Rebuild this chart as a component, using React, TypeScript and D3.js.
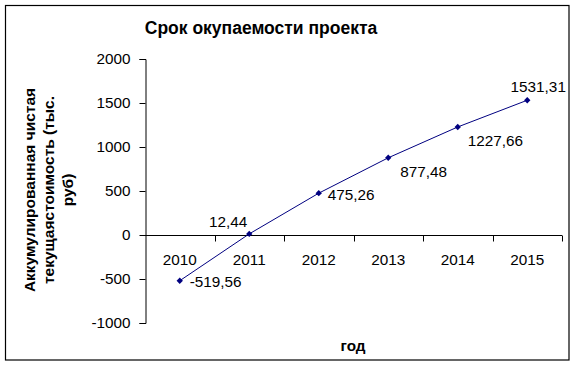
import { useRef, useEffect } from "react";
import * as d3 from "d3";

// chart data
const years = ["2010", "2011", "2012", "2013", "2014", "2015"];
const npv = [-519.56, 12.44, 475.26, 877.48, 1227.66, 1531.31];
const valueLabels = ["-519,56", "12,44", "475,26", "877,48", "1227,66", "1531,31"];
const yTicks = [-1000, -500, 0, 500, 1000, 1500, 2000];
const yTitleLines = ["Аккумулированная чистая", "текущаястоимость (тыс.", "руб)"];

// label offsets relative to each point: [dx, dy, anchor]
const labelPos: [number, number, string][] = [
  [10, 6, "start"],
  [-2, -7, "end"],
  [9, 7, "start"],
  [12, 19, "start"],
  [10, 19, "start"],
  [11, -8, "middle"],
];

const App = () => {
  const svgRef = useRef<SVGSVGElement | null>(null);

  useEffect(() => {
    const width = 577;
    const height = 366;
    const font = "Arial, 'Liberation Sans', sans-serif";
    const fs = 15.3;
    const plot = { left: 145, right: 562, top: 59, bottom: 323 };

    const svg = d3.select(svgRef.current).attr("width", width).attr("height", height);
    svg.selectAll("*").remove();

    svg.append("rect")
      .attr("width", width).attr("height", height).attr("fill", "#fff");

    // outer frame
    svg.append("rect")
      .attr("x", 5.5).attr("y", 5.5)
      .attr("width", 563.5).attr("height", 354.5)
      .attr("fill", "none").attr("stroke", "#000").attr("stroke-width", 1.2);

    const x = d3.scaleBand<string>()
      .domain(years)
      .range([plot.left, plot.right])
      .padding(0);

    const y = d3.scaleLinear()
      .domain([-1000, 2000])
      .range([plot.bottom, plot.top]);

    // y axis
    const yAxis = d3.axisLeft(y).tickValues(yTicks).tickSize(6).tickPadding(9).tickFormat(d => String(d));
    const gy = svg.append("g")
      .attr("transform", `translate(${plot.left + 0.5},0)`)
      .call(yAxis);
    gy.select(".domain").attr("stroke", "#000");
    gy.selectAll(".tick line").attr("stroke", "#000");
    gy.selectAll("text").attr("font-family", font).attr("font-size", fs).attr("fill", "#000");

    // x axis at zero, ticks between categories
    const y0 = Math.round(y(0)) + 0.5;
    svg.append("line")
      .attr("x1", plot.left).attr("x2", plot.right)
      .attr("y1", y0).attr("y2", y0)
      .attr("stroke", "#000");
    svg.selectAll(".xtick")
      .data(years)
      .join("line")
      .attr("class", "xtick")
      .attr("x1", d => Math.round((x(d) as number) + x.bandwidth()) + 0.5)
      .attr("x2", d => Math.round((x(d) as number) + x.bandwidth()) + 0.5)
      .attr("y1", y0).attr("y2", y0 + 6)
      .attr("stroke", "#000");
    svg.selectAll(".xlab")
      .data(years)
      .join("text")
      .attr("class", "xlab")
      .attr("x", d => (x(d) as number) + x.bandwidth() / 2)
      .attr("y", y0 + 29)
      .attr("text-anchor", "middle")
      .attr("font-family", font).attr("font-size", fs)
      .text(d => d);

    // line + markers
    const cx = (i: number) => (x(years[i]) as number) + x.bandwidth() / 2;
    const line = d3.line<number>().x((_, i) => cx(i)).y(d => y(d));
    svg.append("path")
      .datum(npv)
      .attr("d", line)
      .attr("fill", "none")
      .attr("stroke", "#000080")
      .attr("stroke-width", 1);

    // square diamonds like the excel marker
    svg.selectAll(".pt")
      .data(npv)
      .join("path")
      .attr("class", "pt")
      .attr("transform", (d, i) => `translate(${cx(i)},${y(d)}) rotate(45)`)
      .attr("d", d3.symbol(d3.symbolSquare, 20)())
      .attr("fill", "#000080");

    svg.selectAll(".vlab")
      .data(npv)
      .join("text")
      .attr("class", "vlab")
      .attr("x", (_, i) => cx(i) + labelPos[i][0])
      .attr("y", (d, i) => y(d) + labelPos[i][1])
      .attr("text-anchor", (_, i) => labelPos[i][2])
      .attr("font-family", font).attr("font-size", fs)
      .text((_, i) => valueLabels[i]);

    // titles
    svg.append("text")
      .attr("x", 261).attr("y", 34)
      .attr("text-anchor", "middle")
      .attr("font-family", font).attr("font-size", 17.5).attr("font-weight", "bold")
      .text("Срок окупаемости проекта");

    svg.append("text")
      .attr("x", 353).attr("y", 351)
      .attr("text-anchor", "middle")
      .attr("font-family", font).attr("font-size", fs).attr("font-weight", "bold")
      .text("год");

    const yt = svg.append("text")
      .attr("transform", "translate(49,190) rotate(-90)")
      .attr("text-anchor", "middle")
      .attr("font-family", font).attr("font-size", 15.5).attr("font-weight", "bold");
    yt.selectAll("tspan")
      .data(yTitleLines)
      .join("tspan")
      .attr("x", 0)
      .attr("y", (_, i) => (i - 1) * 19 + 5)
      .text(d => d);
  }, []);

  return <svg ref={svgRef} style={{ position: "absolute", left: 0, top: 0 }} />;
};

export default App;
